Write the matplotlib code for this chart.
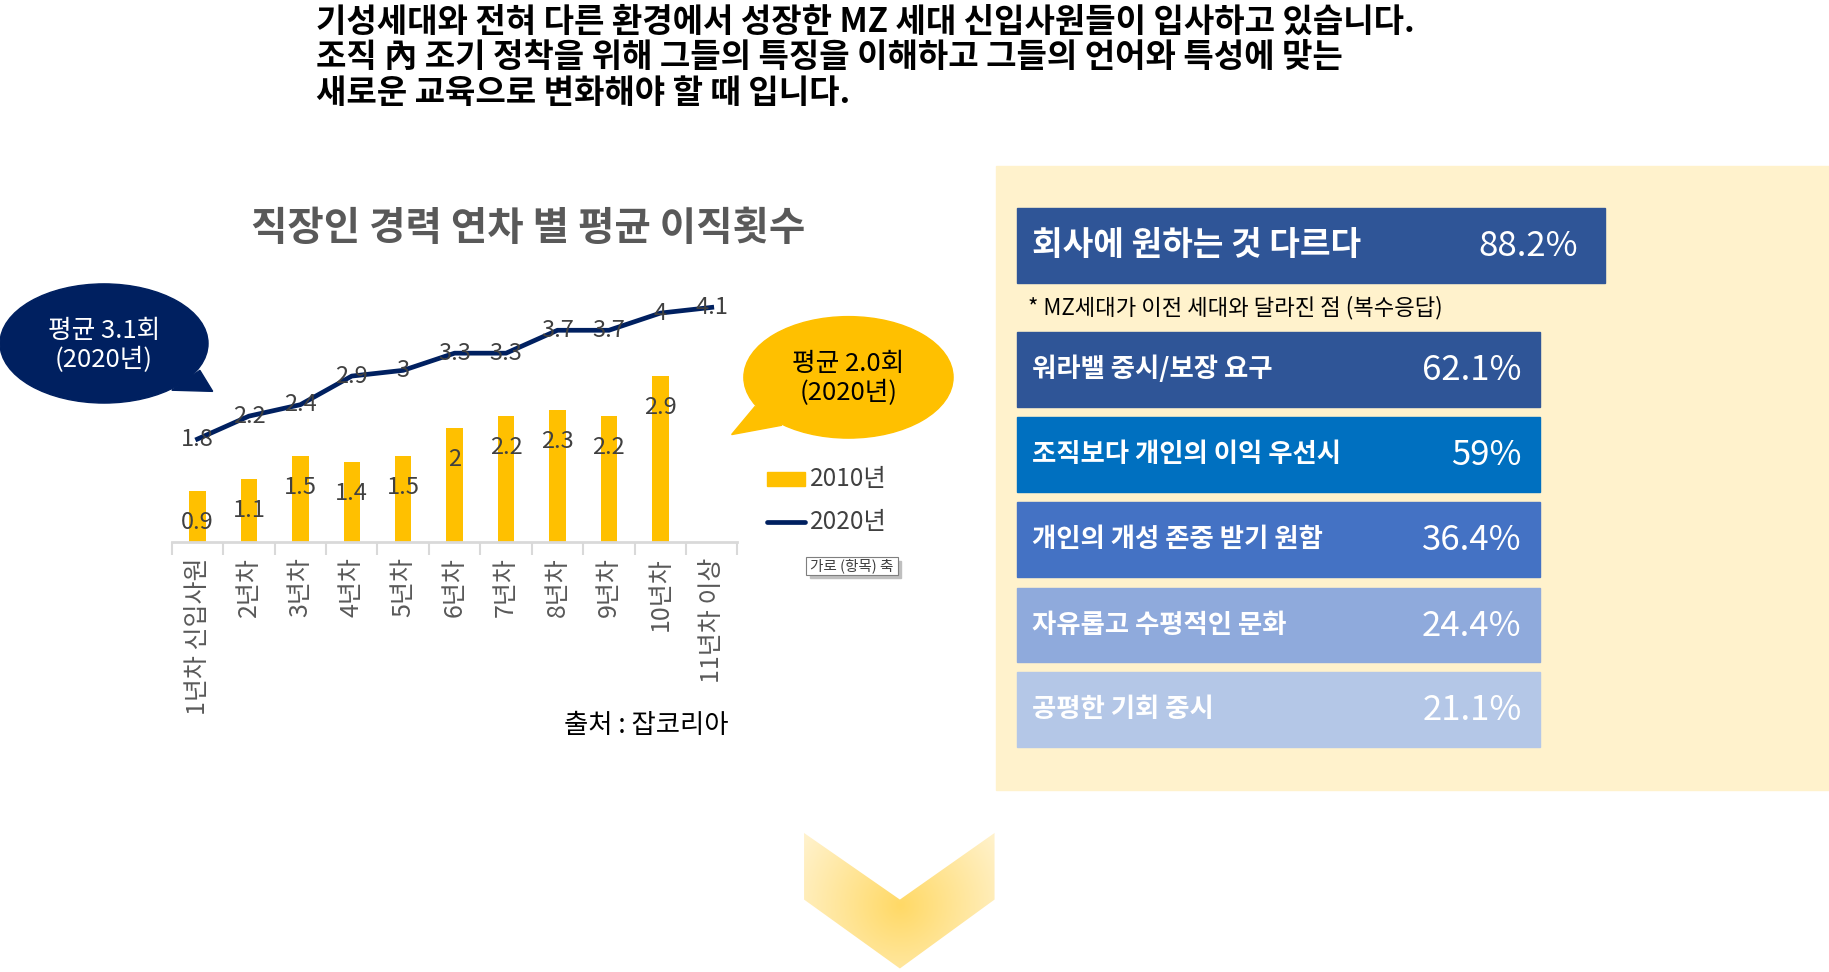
import numpy as np
import matplotlib.pyplot as plt
from matplotlib.patches import Ellipse, Polygon, Rectangle
from matplotlib.colors import LinearSegmentedColormap

plt.rcParams['font.family'] = ['Noto Sans CJK KR', 'DejaVu Sans']

# layout grid (px of the slide, y grows downward)
W, H = 1565, 832

headline = [
    '기성세대와 전혀 다른 환경에서 성장한 MZ 세대 신입사원들이 입사하고 있습니다.',
    '조직 內 조기 정착을 위해 그들의 특징을 이해하고 그들의 언어와 특성에 맞는',
    '새로운 교육으로 변화해야 할 때 입니다.',
]

chart_title = '직장인 경력 연차 별 평균 이직횟수'
years = ['1년차 신입사원', '2년차', '3년차', '4년차', '5년차', '6년차',
         '7년차', '8년차', '9년차', '10년차', '11년차 이상']
moves_2010 = [0.9, 1.1, 1.5, 1.4, 1.5, 2, 2.2, 2.3, 2.2, 2.9]
moves_2020 = [1.8, 2.2, 2.4, 2.9, 3, 3.3, 3.3, 3.7, 3.7, 4, 4.1]
series_names = ['2010년', '2020년']
avg_2020 = ['평균 3.1회\n(2020년)', '평균 2.0회\n(2020년)']
source = '출처 : 잡코리아'

survey_items = ['회사에 원하는 것 다르다', '워라밸 중시/보장 요구', '조직보다 개인의 이익 우선시',
                '개인의 개성 존중 받기 원함', '자유롭고 수평적인 문화', '공평한 기회 중시']
survey_pcts = ['88.2%', '62.1%', '59%', '36.4%', '24.4%', '21.1%']
survey_note = '* MZ세대가 이전 세대와 달라진 점 (복수응답)'

NAVY = '#002060'
GOLD = '#FFC000'

fig = plt.figure(figsize=(18.29, 9.72), dpi=100)
bg = fig.add_axes([0, 0, 1, 1])
bg.set_xlim(0, W)
bg.set_ylim(H, 0)
bg.axis('off')

# headline
for i, line in enumerate(headline):
    bg.text(270, 19 + 30.5 * i, line, fontsize=23.8, fontweight='bold', color='black',
            ha='left', va='center')

# chart title
bg.text(452, 196, chart_title, fontsize=28.5, fontweight='bold', color='#595959',
        ha='center', va='center')

# right panel
bg.add_patch(Rectangle((852, 142), W - 852, 534, color='#FFF2CC', zorder=0))
box_tops = [178, 284, 357, 430, 503, 575]
box_colors = ['#2F5597', '#2F5597', '#0070C0', '#4472C4', '#8FAADC', '#B4C7E7']
for i, (item, pct) in enumerate(zip(survey_items, survey_pcts)):
    x0 = 870
    x1 = 1373 if i == 0 else 1318
    top = box_tops[i]
    bg.add_patch(Rectangle((x0, top), x1 - x0, 64, color=box_colors[i], zorder=1))
    fs = 24 if i == 0 else 19
    bg.text(x0 + 13, top + 32, item, fontsize=fs, fontweight='bold', color='white',
            ha='left', va='center', zorder=2)
    bg.text(x1 - (23 if i == 0 else 16), top + 33, pct, fontsize=25, color='white',
            ha='right', va='center', zorder=2)
bg.text(880, 263, survey_note, fontsize=16, color='black', ha='left', va='center')

# speech bubbles
bg.add_patch(Polygon([(171, 317), (182, 335), (147, 334)], color=NAVY, zorder=1))
bg.add_patch(Ellipse((89, 294), 178, 102, color=NAVY, zorder=1))
bg.text(89, 296, avg_2020[0], fontsize=18.5, color='white', ha='center', va='center',
        linespacing=1.15, zorder=2)
bg.add_patch(Polygon([(646, 348), (626, 372), (669, 364)], color=GOLD, zorder=1))
bg.add_patch(Ellipse((726, 323), 179, 104, color=GOLD, zorder=1))
bg.text(726, 324, avg_2020[1], fontsize=18.5, color='black', ha='center', va='center',
        linespacing=1.15, zorder=2)

# legend
bg.add_patch(Rectangle((656, 404), 33, 12, color=GOLD))
bg.plot([656, 689], [447, 447], color=NAVY, lw=3.4, solid_capstyle='round')
bg.text(693, 410, series_names[0], fontsize=17.5, color='#404040', ha='left', va='center')
bg.text(693, 447, series_names[1], fontsize=17.5, color='#404040', ha='left', va='center')

# small axis tag
bg.add_patch(Rectangle((693, 480), 78, 15, color='#BFBFBF', zorder=1))
bg.add_patch(Rectangle((690, 477), 78, 15, facecolor='white', edgecolor='#7F7F7F',
                       lw=0.8, zorder=2))
bg.text(729, 484.5, '가로 (항목) 축', fontsize=10.5, color='#404040',
        ha='center', va='center', zorder=3)

# source
bg.text(623, 621, source, fontsize=19, color='black', ha='right', va='center')

# chevron with radial gradient
chev = Polygon([(688, 713), (770, 770), (851, 713), (851, 770), (770, 829), (688, 770)],
               closed=True, facecolor='none', edgecolor='none')
bg.add_patch(chev)
gx, gy = np.meshgrid(np.linspace(680, 860, 200), np.linspace(705, 835, 150))
r = np.clip(np.hypot(gx - 770, gy - 775) / 100, 0, 1)
cmap = LinearSegmentedColormap.from_list('chev', ['#FFD966', '#FFF2CC'])
im = bg.imshow(r, extent=(680, 860, 835, 705), cmap=cmap, vmin=0, vmax=1,
               aspect='auto', zorder=1, interpolation='bilinear')
im.set_clip_path(chev)
bg.set_xlim(0, W)
bg.set_ylim(H, 0)

# chart
px_per_unit = 49
ymax = 4.5
ax = fig.add_axes([147 / W, 1 - 464 / H, 484 / W, ymax * px_per_unit / H])
ax.patch.set_alpha(0)
x = np.arange(len(years))
xb = x[:len(moves_2010)]
ax.bar(xb, moves_2010, width=0.32, color=GOLD, zorder=2)
ax.plot(x, moves_2020, color=NAVY, lw=3.4, zorder=3, solid_joinstyle='round')
for xi, v in zip(xb, moves_2010):
    ax.text(xi, v - 0.55, f'{v:g}', fontsize=17, color='#404040', ha='center',
            va='center', zorder=4)
for xi, v in zip(x, moves_2020):
    ax.text(xi, v, f'{v:g}', fontsize=17, color='#404040', ha='center',
            va='center', zorder=4)
ax.set_xlim(-0.5, len(years) - 0.5)
ax.set_ylim(0, ymax)
for s in ['top', 'right', 'left']:
    ax.spines[s].set_visible(False)
ax.spines['bottom'].set_color('#D9D9D9')
ax.spines['bottom'].set_linewidth(2)
ax.set_yticks([])
ax.set_xticks(x)
ax.set_xticklabels(years, rotation=90, fontsize=18, color='#595959', va='top')
ax.tick_params(axis='x', which='major', length=0, pad=11)
ax.set_xticks(np.arange(-0.5, len(years)), minor=True)
ax.tick_params(axis='x', which='minor', length=9, width=1.5, color='#D9D9D9')

fig.savefig('out.png', dpi=100)
